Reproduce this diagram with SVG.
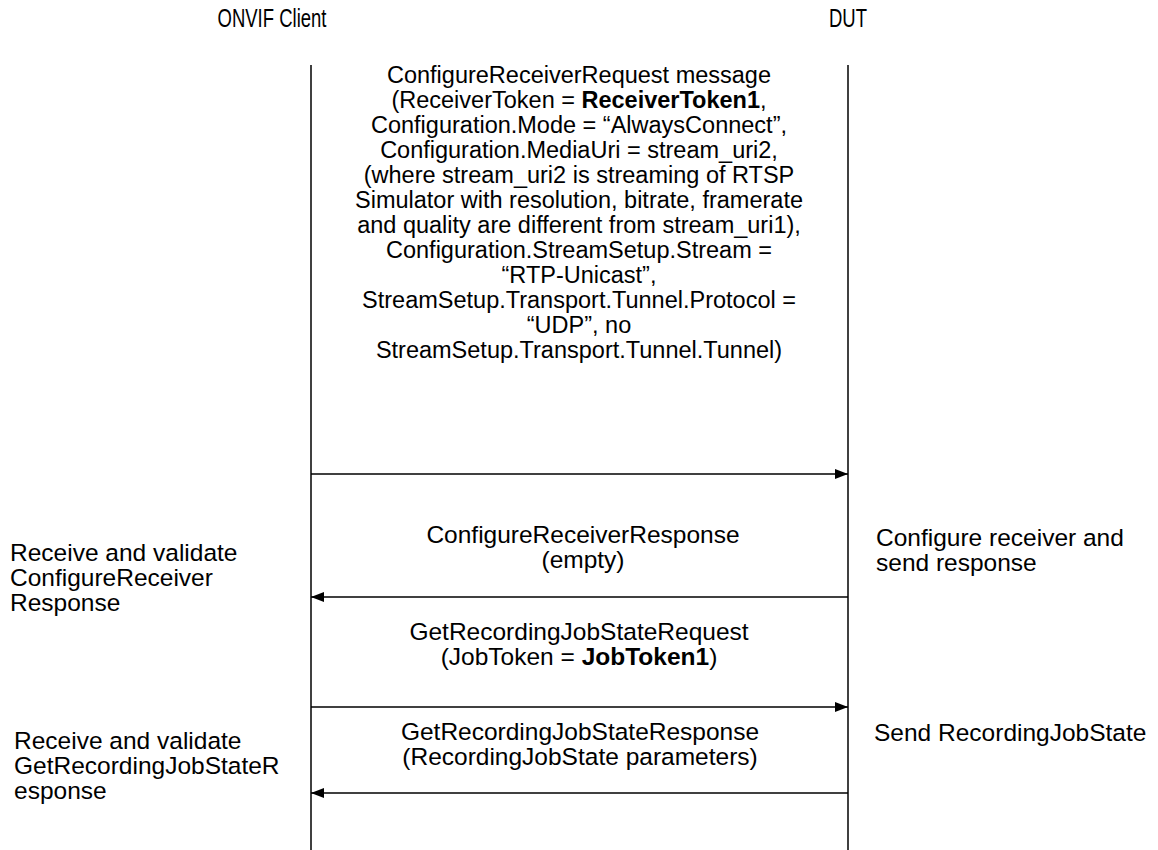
<svg xmlns="http://www.w3.org/2000/svg" width="1158" height="850" viewBox="0 0 1158 850">
<style>
text{font-family:"Liberation Sans",Arial,sans-serif;font-size:24.5px;fill:#000}
.blk{font-size:23.5px}
.hdr{font-size:25px}
.c{text-anchor:middle}
.b{font-weight:bold}
.life{stroke:#000;stroke-width:1.5;fill:none}
.msg{stroke:#000;stroke-width:1.5;fill:none;marker-end:url(#ah)}
</style>
<defs>
<marker id="ah" viewBox="0 0 13 10" refX="13" refY="5" markerWidth="13" markerHeight="10" markerUnits="userSpaceOnUse" orient="auto">
<path d="M0,0 L13,5 L0,10 Z" fill="#000"/>
</marker>
</defs>
<rect width="1158" height="850" fill="#fff"/>
<g id="client">
<text class="hdr c" transform="translate(272,27) scale(0.74,1)">ONVIF Client</text>
<line class="life" x1="311" y1="65" x2="311" y2="850"/>
</g>
<g id="dut">
<text class="hdr c" transform="translate(848,27) scale(0.74,1)">DUT</text>
<line class="life" x1="848" y1="65" x2="848" y2="850"/>
</g>
<g id="connectors">
<line class="msg" x1="311" y1="474" x2="848" y2="474"/>
<line class="msg" x1="848" y1="597" x2="311" y2="597"/>
<line class="msg" x1="311" y1="707" x2="848" y2="707"/>
<line class="msg" x1="848" y1="793" x2="311" y2="793"/>
</g>
<g id="msg1-label" class="blk">
<text class="c blk" x="579" y="83">ConfigureReceiverRequest message</text>
<text class="c blk" x="579" y="108">(ReceiverToken = <tspan class="b">ReceiverToken1</tspan>,</text>
<text class="c blk" x="579" y="133">Configuration.Mode = “AlwaysConnect”,</text>
<text class="c blk" x="579" y="158">Configuration.MediaUri = stream_uri2,</text>
<text class="c blk" x="579" y="183">(where stream_uri2 is streaming of RTSP</text>
<text class="c blk" x="579" y="208">Simulator with resolution, bitrate, framerate</text>
<text class="c blk" x="579" y="233">and quality are different from stream_uri1),</text>
<text class="c blk" x="579" y="258">Configuration.StreamSetup.Stream =</text>
<text class="c blk" x="579" y="283">“RTP-Unicast”,</text>
<text class="c blk" x="579" y="308">StreamSetup.Transport.Tunnel.Protocol =</text>
<text class="c blk" x="579" y="333">“UDP”, no</text>
<text class="c blk" x="579" y="358">StreamSetup.Transport.Tunnel.Tunnel)</text>
</g>
<g id="msg2-label">
<text class="c" x="583" y="543">ConfigureReceiverResponse</text>
<text class="c" x="583" y="568">(empty)</text>
</g>
<g id="msg3-label">
<text class="c" x="579" y="640">GetRecordingJobStateRequest</text>
<text class="c" x="579" y="665">(JobToken = <tspan class="b">JobToken1</tspan>)</text>
</g>
<g id="msg4-label">
<text class="c" x="580" y="740">GetRecordingJobStateResponse</text>
<text class="c" x="580" y="765">(RecordingJobState parameters)</text>
</g>
<g id="client-note1">
<text x="10" y="561">Receive and validate</text>
<text x="10" y="586">ConfigureReceiver</text>
<text x="10" y="611">Response</text>
</g>
<g id="client-note2">
<text x="14" y="749">Receive and validate</text>
<text x="14" y="774">GetRecordingJobStateR</text>
<text x="14" y="799">esponse</text>
</g>
<g id="dut-note1">
<text x="876" y="546">Configure receiver and</text>
<text x="876" y="571">send response</text>
</g>
<g id="dut-note2">
<text x="874" y="741">Send RecordingJobState</text>
</g>
</svg>
